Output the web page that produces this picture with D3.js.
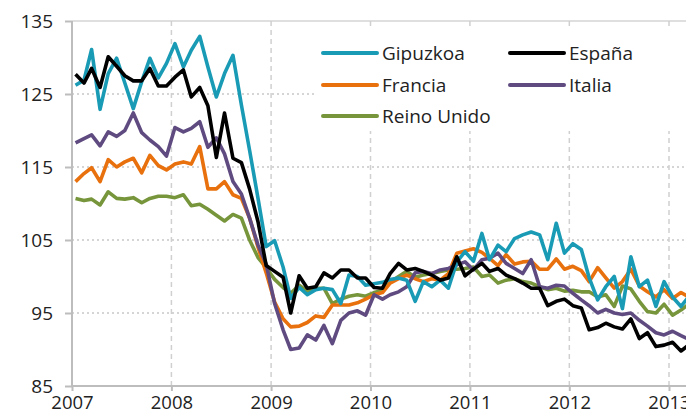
<!DOCTYPE html>
<html><head><meta charset="utf-8">
<script src="https://cdn.jsdelivr.net/npm/d3@7"></script>
<style>html,body{margin:0;padding:0;background:#fff;overflow:hidden}svg{display:block;font-family:"Open Sans",sans-serif}</style>
</head><body><svg id="c" width="686" height="414"></svg>
<script>
const startYear = 2007, startMonth = 0;
const seriesNames = ["Gipuzkoa","España","Francia","Italia","Reino Unido"];
const gipuzkoa = [126.2,126.9,131.1,122.9,127.8,129.9,126.5,123.0,126.7,129.9,127.2,129.2,131.9,128.7,131.0,132.9,128.7,124.6,127.8,130.3,123.5,117.3,110.7,104.1,104.9,101.3,97.0,98.5,97.5,98.2,98.4,98.2,96.3,100.2,100.0,98.8,99.0,99.2,99.6,99.8,99.5,96.6,99.3,98.6,99.5,98.4,102.0,103.4,102.1,105.9,102.3,104.3,103.4,105.2,105.7,106.1,105.7,102.3,107.3,103.2,104.5,103.7,99.8,96.8,98.6,100.0,95.6,102.7,98.6,99.5,95.9,99.3,97.2,95.9,97.2];
const espana = [127.7,126.5,128.5,125.9,130.1,128.8,127.5,126.8,126.8,128.5,126.1,126.1,127.3,128.3,124.6,125.9,123.4,116.3,122.4,116.2,115.6,112.0,107.5,101.5,100.7,99.9,95.0,100.1,98.4,98.6,100.5,99.8,100.9,100.9,99.8,99.8,98.5,98.4,100.4,101.8,100.9,101.1,100.7,100.2,99.5,99.8,102.7,100.1,101.0,101.8,100.7,101.1,100.2,99.7,99.1,98.4,98.4,96.0,96.6,96.9,96.0,95.7,92.7,93.0,93.6,93.1,92.8,94.2,91.5,92.3,90.4,90.6,91.0,89.8,90.6];
const francia = [113.0,114.1,114.9,113.0,116.0,115.0,115.7,116.2,114.2,116.6,115.2,114.6,115.4,115.7,115.4,117.8,112.0,112.0,113.0,111.2,110.7,108.0,104.0,100.5,96.5,94.2,93.1,93.2,93.7,94.6,94.4,96.1,96.1,96.1,96.4,96.9,97.5,97.8,99.1,99.7,100.2,99.7,99.3,99.7,99.5,100.4,103.2,103.5,103.8,103.3,102.5,101.5,103.0,101.7,102.0,102.1,101.0,101.0,102.4,101.0,101.4,100.8,99.3,101.2,99.8,98.4,99.3,101.0,98.7,97.9,97.2,98.2,97.0,97.8,97.2];
const italia = [118.3,118.9,119.4,117.9,119.8,119.2,120.0,122.4,119.7,118.7,117.8,116.5,120.4,119.8,120.3,121.2,117.7,119.0,116.8,113.0,111.3,108.0,104.3,101.7,96.3,92.7,90.0,90.2,92.0,91.3,93.3,90.8,94.0,95.0,95.3,94.7,97.5,96.9,97.5,97.9,98.6,100.5,100.7,100.4,100.9,101.1,101.6,102.0,100.9,102.3,102.5,103.2,101.8,101.1,100.4,102.3,98.6,98.4,98.8,98.7,97.7,96.8,96.0,95.0,95.5,95.0,94.8,95.0,94.0,93.2,92.3,92.0,92.5,91.9,91.4];
const reinoUnido = [110.7,110.4,110.6,109.8,111.6,110.7,110.6,110.8,110.1,110.7,111.0,111.0,110.8,111.2,109.7,109.9,109.2,108.4,107.6,108.5,108.0,105.0,102.6,101.2,99.6,98.5,97.7,98.8,98.0,98.4,98.4,96.3,96.9,97.3,97.5,97.3,97.8,98.1,99.2,100.0,100.7,99.9,100.2,100.4,100.7,100.9,101.0,101.1,101.3,100.0,100.2,99.1,99.5,99.7,99.3,99.1,98.6,98.2,98.4,98.0,98.1,97.9,97.9,97.2,97.5,95.9,98.7,98.3,96.6,95.2,95.0,96.2,94.7,95.4,96.2];
const yTicks = [85,95,105,115,125,135];
const xTickYears = [2007,2008,2009,2010,2011,2012,2013];
const colors = ["#1a9bb5","#000000","#e8710e","#5f4b80","#77953b"];

const seriesValues = [gipuzkoa, espana, francia, italia, reinoUnido];
const svg = d3.select("#c");
const L = 72, R = 686, T = 21, B = 386;
const x = d3.scaleTime().domain([new Date(2007,0,1), new Date(2013,0,1)]).range([L, 669]);
const y = d3.scaleLinear().domain([85,135]).range([B, T]);
const dateOf = i => new Date(startYear, startMonth + i, 14);

// grid
svg.append("g").selectAll("line").data(yTicks.filter(v => v > 85 && v < 135)).join("line")
  .attr("x1", L).attr("x2", R).attr("y1", d => y(d)).attr("y2", d => y(d))
  .attr("stroke", "#c8c8c8").attr("stroke-width", 1.5).attr("stroke-dasharray", "2,3");
svg.append("line").attr("x1", L).attr("x2", R).attr("y1", y(135)).attr("y2", y(135))
  .attr("stroke", "#d4d4d4").attr("stroke-width", 1.5);
svg.append("g").selectAll("line").data(xTickYears.slice(1)).join("line")
  .attr("x1", d => x(new Date(d,0,1))).attr("x2", d => x(new Date(d,0,1)))
  .attr("y1", T).attr("y2", B)
  .attr("stroke", "#d0d0d0").attr("stroke-width", 1.5).attr("stroke-dasharray", "5,4");

// legend background
svg.append("rect").attr("x", 315).attr("y", 29).attr("width", 371).attr("height", 102).attr("fill", "#fff");

// axes
const yAxis = d3.axisLeft(y).tickValues(yTicks).tickSize(7).tickPadding(12).tickFormat(d3.format("d"));
const gy = svg.append("g").attr("transform", `translate(${L},0)`).call(yAxis);
const xAxis = d3.axisBottom(x).tickValues(xTickYears.map(d => new Date(d,0,1))).tickSize(5).tickPadding(5).tickFormat(d3.timeFormat("%Y"));
const gx = svg.append("g").attr("transform", `translate(0,${B})`).call(xAxis);
[gy, gx].forEach(g => {
  g.select(".domain").attr("stroke", "#bdbdbd").attr("stroke-width", 2);
  g.selectAll(".tick line").attr("stroke", "#bdbdbd").attr("stroke-width", 2);
  g.selectAll("text").attr("fill", "#222").style("font-size", "19px").style("font-family", '"Open Sans",sans-serif');
});
gx.selectAll("text").style("font-size", "18.5px");
gx.select(".domain").attr("d", `M${L},0H${R}`);
gy.select(".domain").attr("d", `M0,${B}V${T}`);

// clip + lines
svg.append("clipPath").attr("id", "clip").append("rect").attr("x", L).attr("y", 0).attr("width", R - L).attr("height", 414);
const line = d3.line().x((d, i) => x(dateOf(i))).y(d => y(d));
const order = [4, 2, 3, 0, 1];
svg.append("g").attr("clip-path", "url(#clip)").selectAll("path").data(order).join("path")
  .attr("d", k => line(seriesValues[k])).attr("fill", "none")
  .attr("stroke", k => colors[k]).attr("stroke-width", 3.6).attr("stroke-linejoin", "round");

// legend
const legPos = [[323, 53], [510, 53], [323, 85], [510, 85], [323, 116]];
const lg = svg.append("g").selectAll("g").data(seriesNames).join("g")
  .attr("transform", (d, i) => `translate(${legPos[i][0]},${legPos[i][1]})`);
lg.append("line").attr("x1", 0).attr("x2", 54).attr("stroke", (d, i) => colors[i]).attr("stroke-width", 4).attr("stroke-linecap", "round");
lg.append("text").attr("x", 59).attr("dy", "0.35em").text(d => d).attr("fill", "#222").style("font-size", "19px");
</script></body></html>
